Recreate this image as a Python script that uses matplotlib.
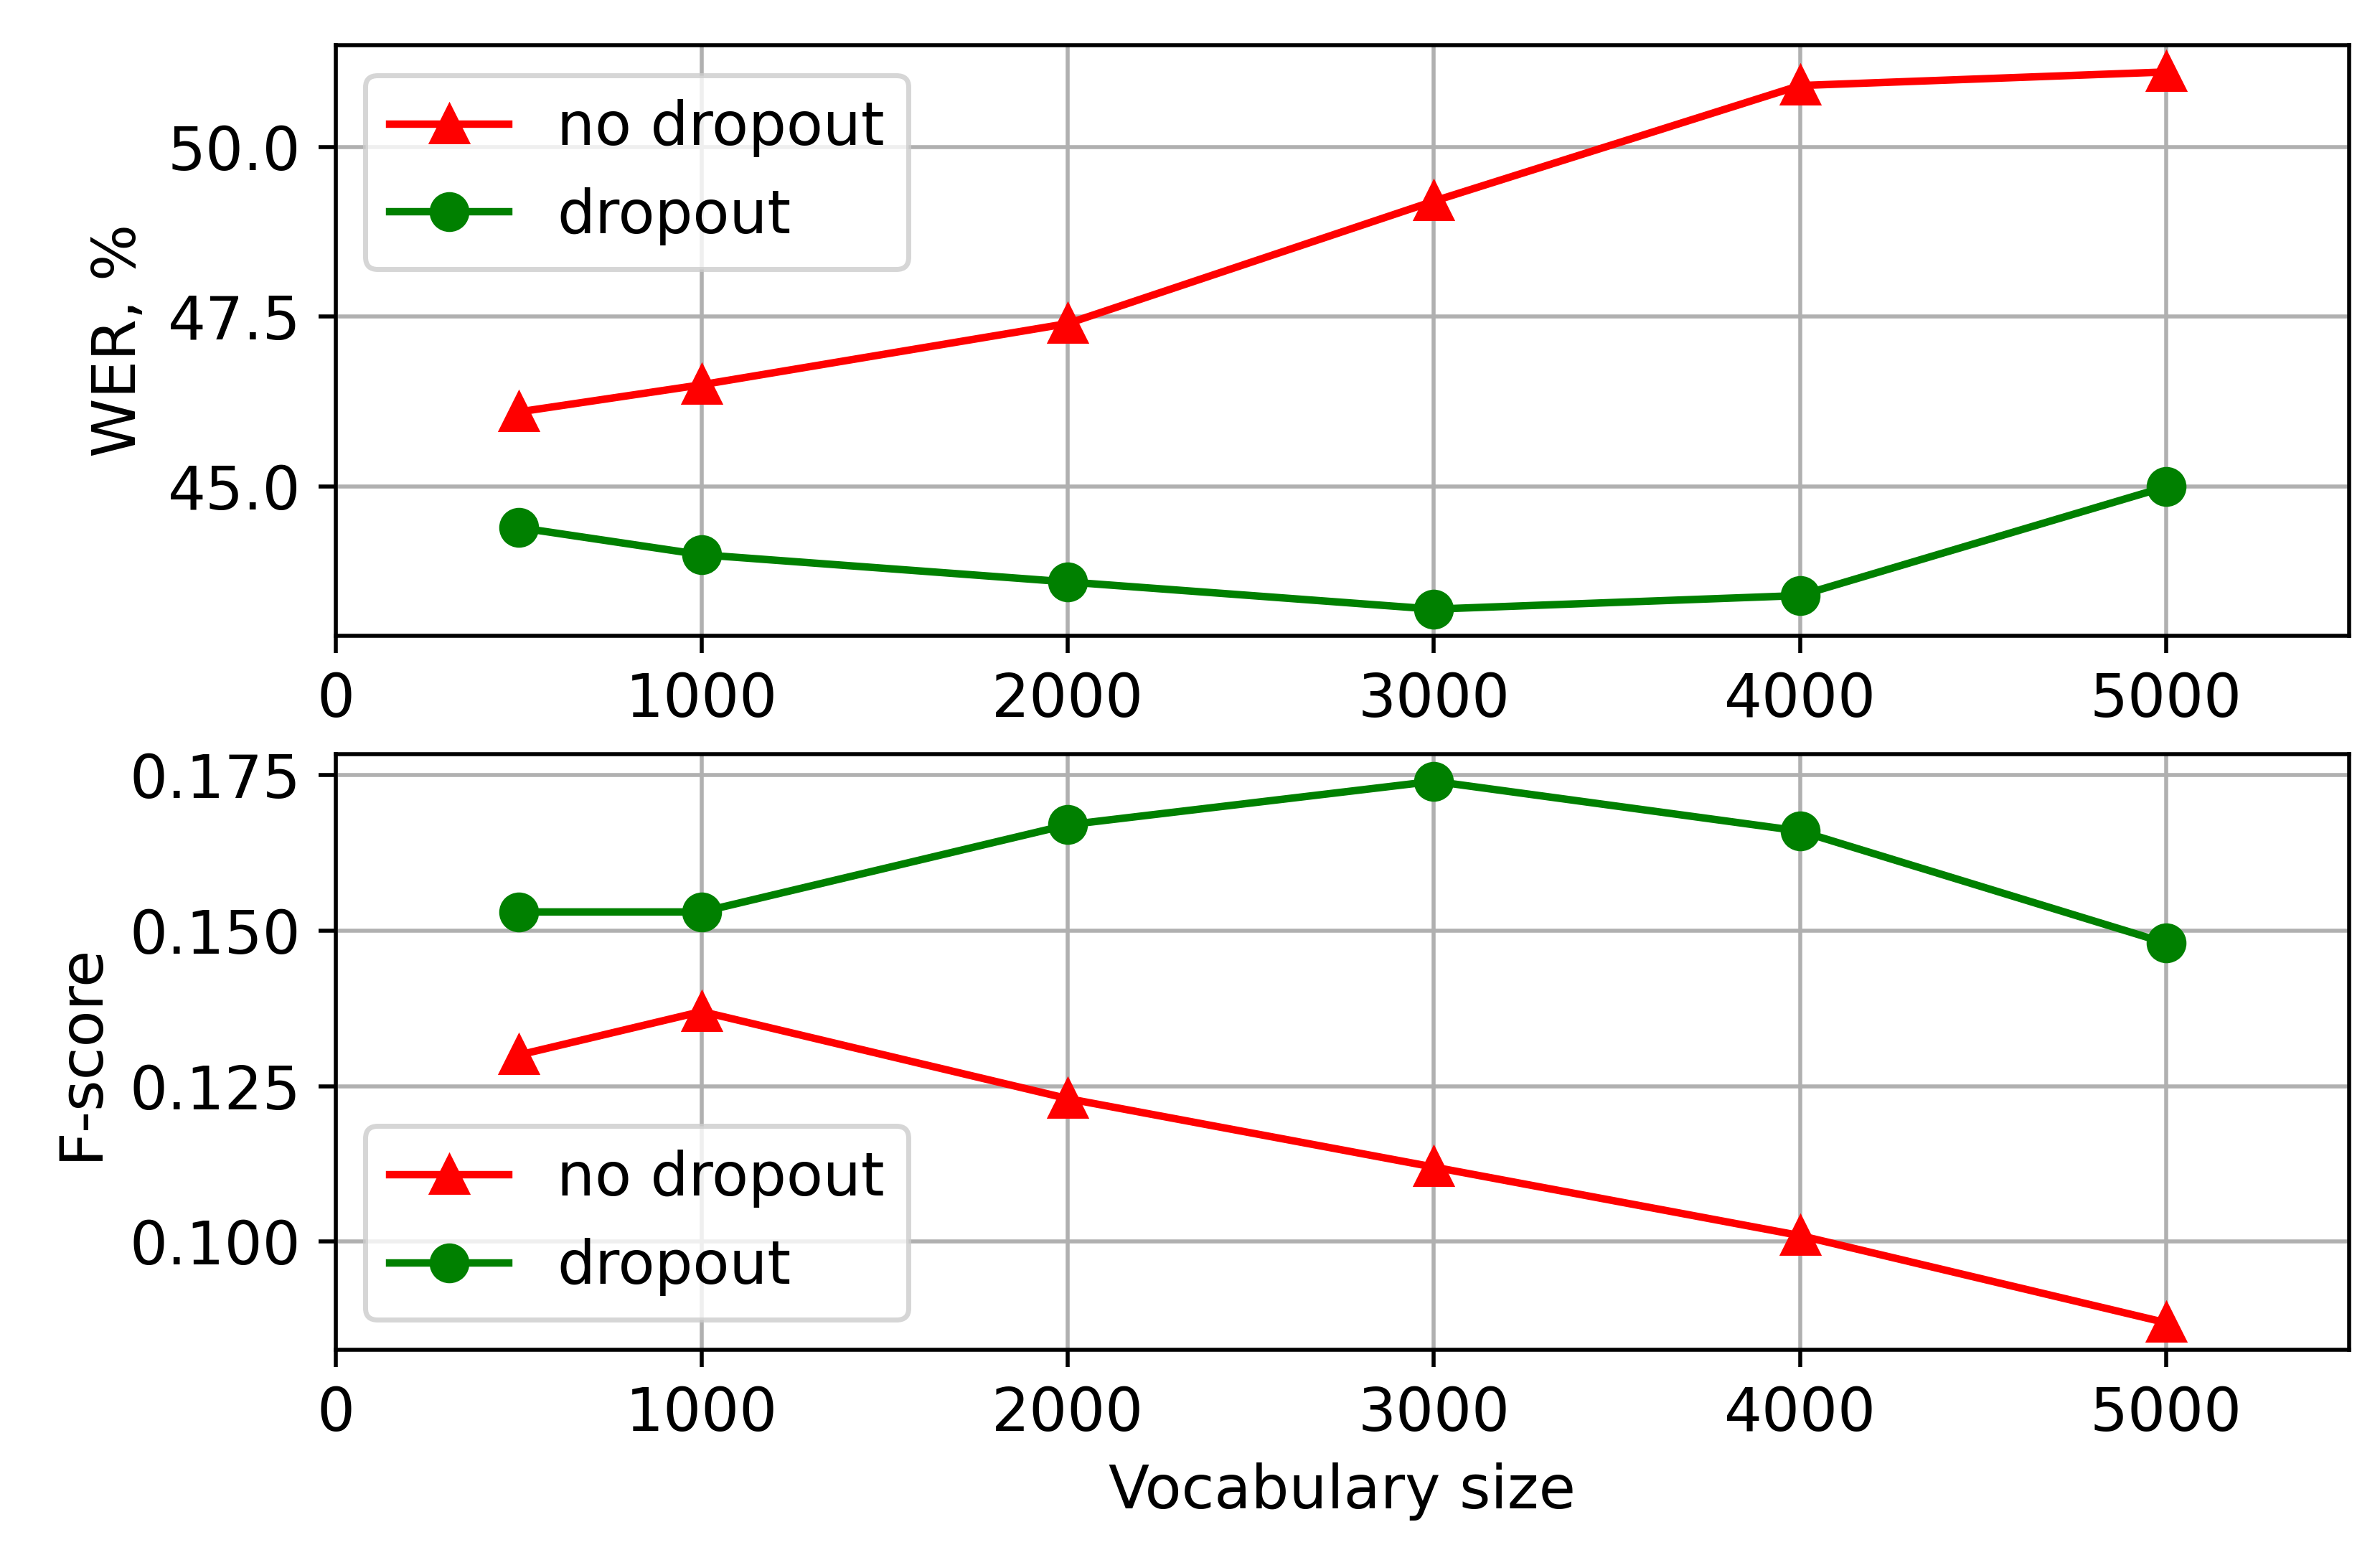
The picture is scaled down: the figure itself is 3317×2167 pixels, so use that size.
import matplotlib.pyplot as plt

vocab = [500, 1000, 2000, 3000, 4000, 5000]
wer_no_dropout = [46.1, 46.5, 47.4, 49.2, 50.9, 51.1]
wer_dropout = [44.4, 44.0, 43.6, 43.2, 43.4, 45.0]
f_no_dropout = [0.130, 0.137, 0.123, 0.112, 0.101, 0.087]
f_dropout = [0.153, 0.153, 0.167, 0.174, 0.166, 0.148]

fig = plt.figure(figsize=(6.634, 4.334), dpi=500)
ax1 = fig.add_axes([0.141, 0.591, 0.846, 0.380])
ax2 = fig.add_axes([0.141, 0.132, 0.846, 0.383])

for ax, nd, d in [(ax1, wer_no_dropout, wer_dropout), (ax2, f_no_dropout, f_dropout)]:
    ax.plot(vocab, nd, color='red', marker='^', markersize=7, linewidth=1.5, label='no dropout')
    ax.plot(vocab, d, color='green', marker='o', markersize=7, linewidth=1.5, label='dropout')
    ax.set_xlim(0, 5500)
    ax.set_xticks([0, 1000, 2000, 3000, 4000, 5000])
    ax.grid(True)
    ax.tick_params(labelsize=12)

ax1.set_yticks([45.0, 47.5, 50.0])
ax1.set_ylabel('WER, %', fontsize=12)
ax1.legend(loc='upper left', fontsize=12)

ax2.set_yticks([0.100, 0.125, 0.150, 0.175])
ax2.set_ylabel('F-score', fontsize=12)
ax2.set_xlabel('Vocabulary size', fontsize=12)
ax2.legend(loc='lower left', fontsize=12)

fig.savefig('out.png', dpi=500)
